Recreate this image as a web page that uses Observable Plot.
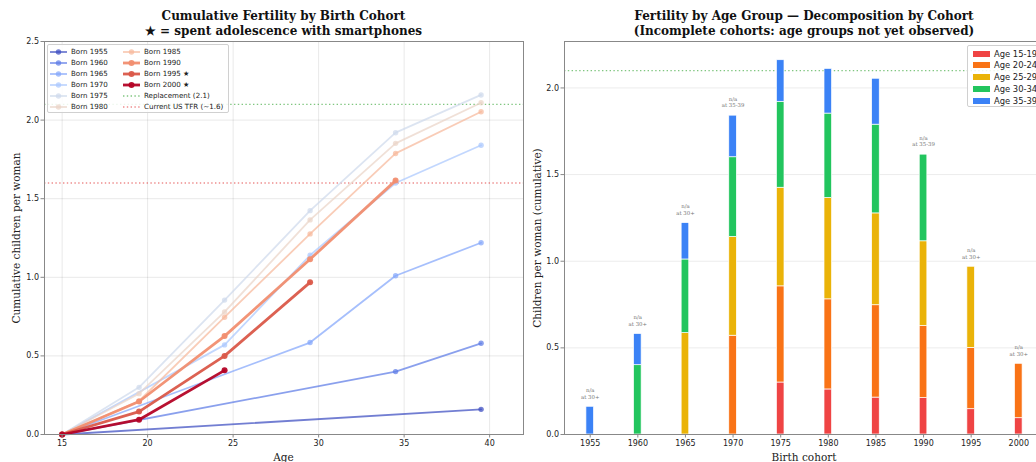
<!DOCTYPE html>
<html>
<head>
<meta charset="utf-8">
<script src="https://cdn.jsdelivr.net/npm/d3@7"></script>
<script src="https://cdn.jsdelivr.net/npm/@observablehq/plot@0.6"></script>
<style>
  html, body { margin: 0; padding: 0; background: #fff; overflow: hidden; }
  #wrap { position: relative; width: 1036px; height: 462px; overflow: hidden; background: #fff; }
  .abs { position: absolute; white-space: nowrap; }
  .title { font-family: "DejaVu Serif", serif; font-weight: bold; font-size: 12px; color: #111; text-align: center; line-height: 15px; transform: translate(-50%, 0); }
  .axlab { font-family: "DejaVu Serif", serif; font-size: 10.5px; color: #222; transform: translate(-50%, -50%); }
  .axlab.rot { transform: translate(-50%, -50%) rotate(-90deg); }
  .legend { font-family: "DejaVu Sans", sans-serif; font-size: 7.1px; color: #222; background: rgba(255,255,255,0.85); border: 1px solid #d0d0d0; border-radius: 2px; box-sizing: border-box; }
  .lrow { position: absolute; display: flex; align-items: center; height: 10px; }
  .lrow svg { margin-right: 4px; }
</style>
</head>
<body>
<div id="wrap"></div>
<script>
// ---------- data ----------
const ages = [15, 19.5, 24.5, 29.5, 34.5, 39.5];
const cohorts = [1955, 1960, 1965, 1970, 1975, 1980, 1985, 1990, 1995, 2000];
const starred = [1995, 2000];
const cum1955 = [0, null, null, null, null, 0.16];
const cum1960 = [0, null, null, null, 0.40, 0.58];
const cum1965 = [0, null, null, 0.585, 1.01, 1.22];
const cum1970 = [0, null, 0.57, 1.14, 1.60, 1.84];
const cum1975 = [0, 0.30, 0.855, 1.424, 1.92, 2.16];
const cum1980 = [0, 0.26, 0.78, 1.365, 1.852, 2.11];
const cum1985 = [0, 0.213, 0.746, 1.276, 1.788, 2.053];
const cum1990 = [0, 0.21, 0.626, 1.115, 1.615, null];
const cum1995 = [0, 0.146, 0.50, 0.968, null, null];
const cum2000 = [0, 0.094, 0.408, null, null, null];
const cumByCohort = [cum1955, cum1960, cum1965, cum1970, cum1975, cum1980, cum1985, cum1990, cum1995, cum2000];
const cohortColors = ["#3b4cc0", "#5d7ce6", "#83a6fb", "#aac7fe", "#ced9ec", "#ead4c8", "#f7b89b", "#f18e70", "#da5949", "#b40426"];
const replacement = 2.1;
const currentTFR = 1.6;

const ageGroups = ["Age 15-19", "Age 20-24", "Age 25-29", "Age 30-34", "Age 35-39"];
const ageColors = ["#ef4444", "#f97316", "#eab308", "#22c55e", "#3b82f6"];
const annCohorts = [1955, 1960, 1965, 1970, 1990, 1995, 2000];
const annLabels = ["n/a\nat 30+", "n/a\nat 30+", "n/a\nat 30+", "n/a\nat 35-39", "n/a\nat 35-39", "n/a\nat 30+", "n/a\nat 30+"];

const leftTitle = ["Cumulative Fertility by Birth Cohort", "★ = spent adolescence with smartphones"];
const rightTitle = ["Fertility by Age Group — Decomposition by Cohort", "(Incomplete cohorts: age groups not yet observed)"];

// ---------- helpers ----------
const wrap = document.getElementById("wrap");
function addDiv(cls, html, left, top) {
  const d = document.createElement("div");
  d.className = "abs " + cls;
  d.innerHTML = html;
  d.style.left = left + "px";
  d.style.top = top + "px";
  wrap.appendChild(d);
  return d;
}
const thick = c => c >= 1990;
const lw = c => thick(c) ? 2.8 : 1.8;
const op = c => thick(c) ? 0.95 : 0.72;
const rr = c => thick(c) ? 3 : 2.7;

// ---------- left chart ----------
const lineMarks = [];
cohorts.forEach((c, k) => {
  const pts = ages.map((a, i) => ({age: a, v: cumByCohort[k][i], cohort: c})).filter(d => d.v != null);
  lineMarks.push(Plot.line(pts, {x: "age", y: "v", stroke: cohortColors[k], strokeWidth: lw(c), strokeOpacity: op(c)}));
  lineMarks.push(Plot.dot(pts, {x: "age", y: "v", r: rr(c), fill: cohortColors[k], fillOpacity: op(c)}));
});

const left = Plot.plot({
  width: 530, height: 462,
  marginLeft: 44, marginRight: 7, marginTop: 41, marginBottom: 28,
  style: {background: "transparent", fontFamily: "DejaVu Sans, sans-serif", fontSize: "8px", color: "#333", overflow: "visible"},
  x: {domain: [13.97, 41.98]},
  y: {domain: [0, 2.5]},
  marks: [
    Plot.gridX([15, 20, 25, 30, 35, 40], {stroke: "#000", strokeOpacity: 0.09}),
    Plot.gridY([0, 0.5, 1, 1.5, 2, 2.5], {stroke: "#000", strokeOpacity: 0.09}),
    Plot.ruleY([replacement], {stroke: "#2ca02c", strokeOpacity: 0.6, strokeWidth: 1.4, strokeDasharray: "1.4,2.4"}),
    Plot.ruleY([currentTFR], {stroke: "#e03030", strokeOpacity: 0.55, strokeWidth: 1.4, strokeDasharray: "1.4,2.4"}),
    ...lineMarks,
    Plot.frame({stroke: "#888", strokeWidth: 1}),
    Plot.axisX({ticks: [15, 20, 25, 30, 35, 40], tickSize: 3.5, tickPadding: 2, label: null, stroke: "#888", fill: "#222"}),
    Plot.axisY({ticks: [0, 0.5, 1, 1.5, 2, 2.5], tickFormat: d3.format(".1f"), tickSize: 3.5, tickPadding: 2, label: null, stroke: "#888", fill: "#222"})
  ]
});
left.style.position = "absolute"; left.style.left = "0px"; left.style.top = "0px";
wrap.appendChild(left);

// ---------- right chart ----------
const segs = [];
const tops = {};
cohorts.forEach((c, k) => {
  let prev = 0;
  for (let i = 1; i < ages.length; i++) {
    const v = cumByCohort[k][i];
    if (v != null) {
      segs.push({cohort: c, group: ageGroups[i - 1], y1: prev, y2: v});
      prev = v;
    }
  }
  tops[c] = prev;
});
const annData = annCohorts.map((c, i) => ({cohort: c, top: tops[c], label: annLabels[i]}));

const right = Plot.plot({
  width: 530, height: 462,
  marginLeft: 34, marginRight: 16, marginTop: 41, marginBottom: 28,
  style: {background: "transparent", fontFamily: "DejaVu Sans, sans-serif", fontSize: "8px", color: "#333", overflow: "visible"},
  x: {domain: [1952.3, 2002.7]},
  y: {domain: [0, 2.268]},
  color: {domain: ageGroups, range: ageColors},
  marks: [
    Plot.gridY([0, 0.5, 1, 1.5, 2], {stroke: "#000", strokeOpacity: 0.08}),
    Plot.ruleY([replacement], {stroke: "#2ca02c", strokeOpacity: 0.6, strokeWidth: 1.4, strokeDasharray: "1.4,2.4"}),
    Plot.rectY(segs, {x1: d => d.cohort - 0.4, x2: d => d.cohort + 0.4, y1: "y1", y2: "y2", fill: "group", stroke: "white", strokeWidth: 0.7}),
    Plot.text(annData, {x: "cohort", y: "top", text: "label", dy: -13.5, lineAnchor: "middle", lineHeight: 1.2, fontSize: 5.4, fill: "#777", fontFamily: "DejaVu Serif, serif"}),
    Plot.frame({stroke: "#888", strokeWidth: 1}),
    Plot.axisX({ticks: cohorts, tickFormat: d => String(d), tickSize: 3.5, tickPadding: 2, label: null, stroke: "#888", fill: "#222"}),
    Plot.axisY({ticks: [0, 0.5, 1, 1.5, 2], tickFormat: d3.format(".1f"), tickSize: 3.5, tickPadding: 2, label: null, stroke: "#888", fill: "#222"})
  ]
});
right.style.position = "absolute"; right.style.left = "530px"; right.style.top = "0px";
wrap.appendChild(right);

// ---------- titles & labels ----------
addDiv("title", leftTitle.join("<br>"), 283.5, 9);
addDiv("title", rightTitle.join("<br>"), 804, 9);
addDiv("axlab", "Age", 283.5, 456.5);
addDiv("axlab rot", "Cumulative children per woman", 16, 237.5);
addDiv("axlab", "Birth cohort", 804, 456.5);
addDiv("axlab rot", "Children per woman (cumulative)", 537, 237.5);

// ---------- left legend ----------
const lg = addDiv("legend", "", 47, 44);
lg.style.width = "182px"; lg.style.height = "69px";
function swatchLine(color, w, o, r, dash) {
  let s = `<svg width="17" height="8" style="overflow:visible">`;
  if (dash) {
    s += `<line x1="0" y1="4" x2="17" y2="4" stroke="${color}" stroke-opacity="${o}" stroke-width="1.4" stroke-dasharray="1.4,2.4"/>`;
  } else {
    s += `<line x1="0" y1="4" x2="17" y2="4" stroke="${color}" stroke-opacity="${o}" stroke-width="${w}"/>`;
    s += `<circle cx="8.5" cy="4" r="${r}" fill="${color}" fill-opacity="${o}"/>`;
  }
  return s + `</svg>`;
}
const legendItems = cohorts.map((c, k) => ({
  html: swatchLine(cohortColors[k], lw(c), op(c), rr(c)) + `<span>Born ${c}${starred.includes(c) ? " ★" : ""}</span>`
}));
legendItems.push({html: swatchLine("#2ca02c", 1, 0.6, 0, true) + `<span>Replacement (${replacement})</span>`});
legendItems.push({html: swatchLine("#e03030", 1, 0.55, 0, true) + `<span>Current US TFR (~${currentTFR})</span>`});
legendItems.forEach((it, i) => {
  const col = Math.floor(i / 6), row = i % 6;
  const r = document.createElement("div");
  r.className = "lrow";
  r.style.left = (col === 0 ? 2 : 75) + "px";
  r.style.top = (1.5 + row * 11) + "px";
  r.innerHTML = it.html;
  lg.appendChild(r);
});

// ---------- right legend ----------
const rg = addDiv("legend", "", 967, 45);
rg.style.width = "90px"; rg.style.height = "62px"; rg.style.fontSize = "8.4px";
ageGroups.forEach((g, i) => {
  const r = document.createElement("div");
  r.className = "lrow";
  r.style.left = "5px";
  r.style.top = (1.5 + i * 11.8) + "px";
  r.style.height = "12px";
  r.innerHTML = `<svg width="17" height="6"><rect x="0" y="0" width="17" height="6" fill="${ageColors[i]}"/></svg><span>${g}</span>`;
  rg.appendChild(r);
});
</script>
</body>
</html>
